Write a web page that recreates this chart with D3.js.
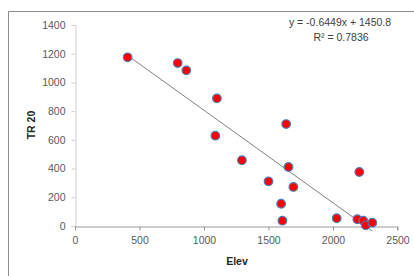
<!DOCTYPE html>
<html><head><meta charset="utf-8">
<script src="https://cdn.jsdelivr.net/npm/d3@7"></script>
<style>body{margin:0;background:#fff}svg{display:block}</style>
</head><body>
<script>
const elev = [408, 796, 863, 1100, 1088, 1637, 1294, 1655, 1500, 1693, 1598, 1608, 2204, 2029, 2189, 2235, 2254, 2305];
const tr20 = [1175, 1135, 1084, 889, 629, 710, 458, 411, 311, 272, 155, 37, 376, 54, 47, 37, 5, 23];
const xTicks = [0, 500, 1000, 1500, 2000, 2500];
const yTicks = [0, 200, 400, 600, 800, 1000, 1200, 1400];
const slope = -0.6449, intercept = 1450.8;
const eqText = "y = -0.6449x + 1450.8";
const r2Text = "R² = 0.7836";

const W = 414, H = 276;
const svg = d3.select("body").append("svg").attr("width", W).attr("height", H);
const font = "'Liberation Sans', Arial, sans-serif";
const fs = 10.5;

// outer frame
svg.append("path").attr("d", "M8.5,276 L8.5,11.5 L414,11.5")
  .attr("fill", "none").attr("stroke", "#8c8c8c").attr("stroke-width", 1);

const x = d3.scaleLinear().domain([0, 2500]).range([75, 397.5]);
const y = d3.scaleLinear().domain([0, 1400]).range([226, 25]);

// y axis
const ya = svg.append("g").attr("transform", "translate(75.5,0)")
  .call(d3.axisLeft(y).tickValues(yTicks).tickFormat(d3.format("d")).tickSize(4).tickPadding(6));
ya.select(".domain").attr("stroke", "#d0d0d0");
ya.selectAll(".tick line").attr("stroke", "#d0d0d0");
ya.selectAll("text").attr("font-family", font).attr("font-size", fs).attr("fill", "#595959");

// x axis
const xa = svg.append("g").attr("transform", "translate(0,226.5)")
  .call(d3.axisBottom(x).tickValues(xTicks).tickFormat(d3.format("d")).tickSize(4).tickPadding(6));
xa.select(".domain").attr("stroke", "#9a9a9a").attr("d", "M75,0.5H397.5V4");
xa.selectAll(".tick line").attr("stroke", "#9a9a9a");
xa.selectAll("text").attr("font-family", font).attr("font-size", fs).attr("fill", "#595959");

// trend line
const xmin = d3.min(elev), xmax = d3.max(elev);
svg.append("line")
  .attr("x1", x(xmin)).attr("y1", y(slope * xmin + intercept))
  .attr("x2", x(xmax)).attr("y2", y(slope * xmax + intercept))
  .attr("stroke", "#808080").attr("stroke-width", 1);

// points
svg.append("g").selectAll("circle").data(elev.map((e, i) => [e, tr20[i]]))
  .join("circle")
  .attr("cx", d => x(d[0])).attr("cy", d => y(d[1])).attr("r", 4.3)
  .attr("fill", "#ff0000").attr("stroke", "#4a7ebb").attr("stroke-width", 1.2);

// equation
svg.append("text").attr("x", 340).attr("y", 26).attr("text-anchor", "middle")
  .attr("font-family", font).attr("font-size", fs).attr("fill", "#404040").text(eqText);
svg.append("text").attr("x", 341).attr("y", 41).attr("text-anchor", "middle")
  .attr("font-family", font).attr("font-size", fs).attr("fill", "#404040").text(r2Text);

// axis titles
svg.append("text").attr("x", 237).attr("y", 265).attr("text-anchor", "middle")
  .attr("font-family", font).attr("font-size", fs).attr("font-weight", "bold").attr("fill", "#262626").text("Elev");
svg.append("text").attr("transform", "translate(35,125) rotate(-90)").attr("text-anchor", "middle")
  .attr("font-family", font).attr("font-size", fs).attr("font-weight", "bold").attr("fill", "#262626").text("TR 20");
</script>
</body></html>
